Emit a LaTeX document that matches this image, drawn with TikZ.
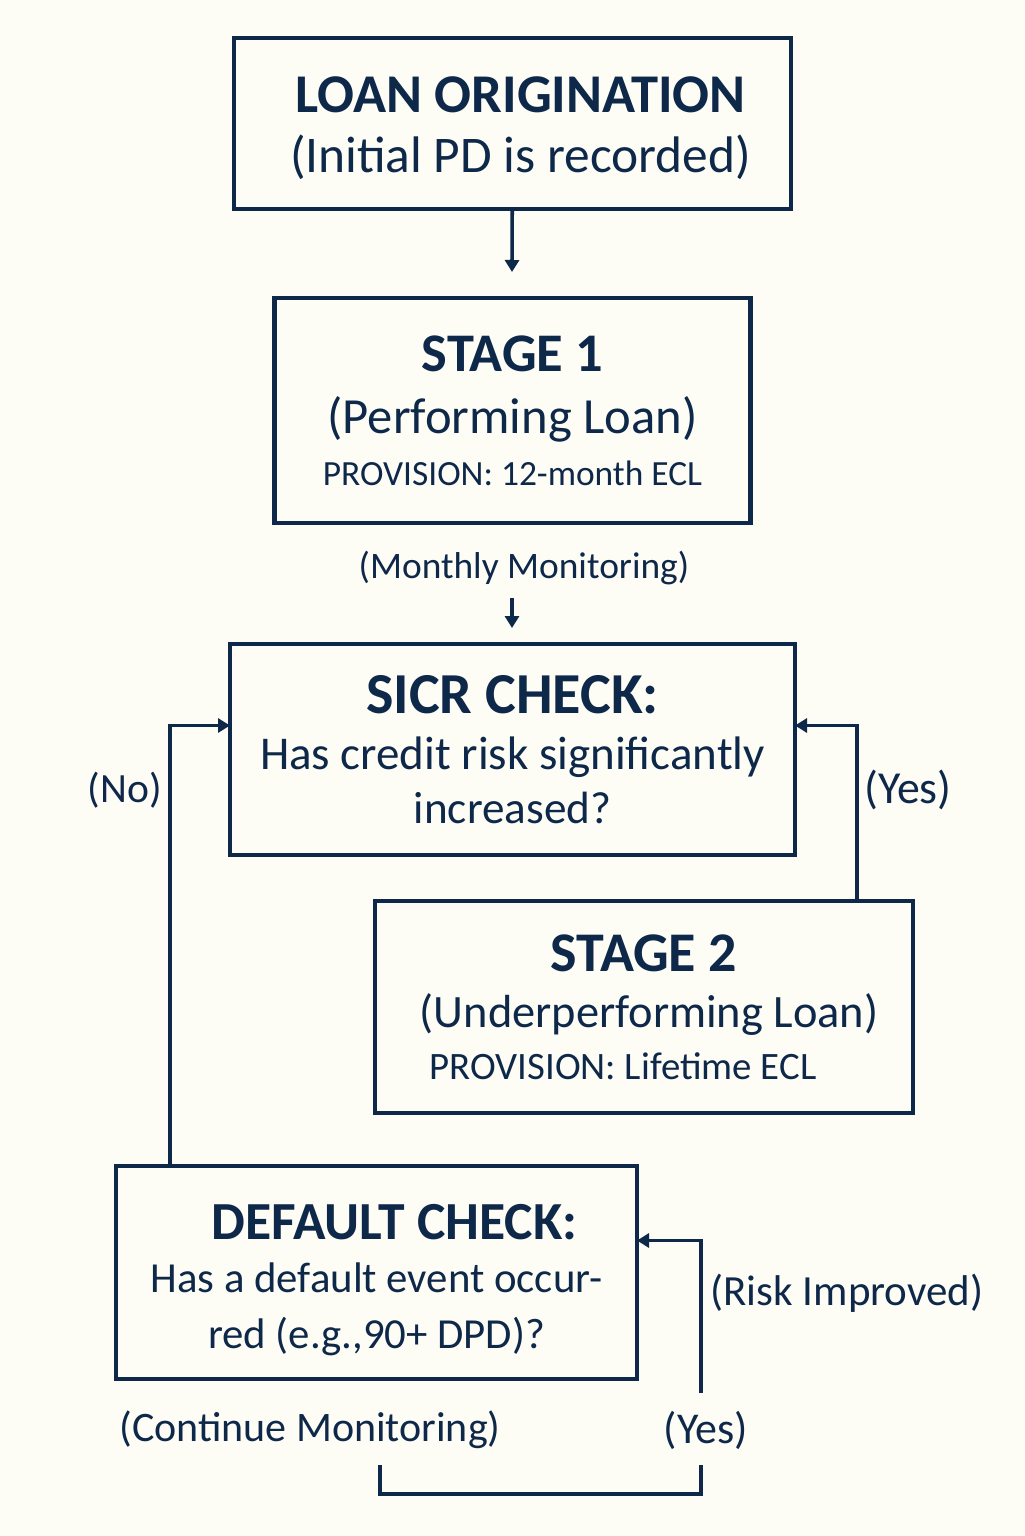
\documentclass[tikz,border=0pt]{standalone}
\usepackage{fontspec}
\setmainfont{Carlito}
\usetikzlibrary{positioning,arrows.meta}
\definecolor{inkblue}{RGB}{14,40,74}
\definecolor{bgcream}{RGB}{253,252,245}
\tikzset{
  box/.style={rectangle,draw=inkblue,line width=2.4pt,outer sep=0pt,align=center,
    inner sep=0pt,text=inkblue,font=\fontsize{25}{28}\selectfont},
  lbl/.style={text=inkblue,inner sep=0pt,font=\fontsize{21.5}{24}\selectfont},
  flow/.style={-{Triangle[length=6pt,width=7pt]},line width=1.8pt,draw=inkblue},
  link/.style={line width=1.8pt,draw=inkblue},
}
% bold heading / plain line at a given size
\newcommand{\hd}[2]{{\fontsize{#1}{#1}\selectfont\bfseries #2}}
\newcommand{\pl}[2]{{\fontsize{#1}{#1}\selectfont #2}}

\begin{document}
\begin{tikzpicture}[x=0.5pt,y=-0.5pt,node distance=8mm]
  \fill[bgcream] (0,0) rectangle (1024,1536);
  % boxes
  \node[box,minimum width=278.5pt,minimum height=85.5pt] (orig) at (512.5,123.5)
    {\rule{0pt}{22.7pt}\hspace*{8pt}\hd{27.3}{LOAN ORIGINATION}\\[2pt]\hspace*{8pt}\pl{25.7}{(Initial PD is recorded)}};
  \node[box,minimum width=238pt,minimum height=112.5pt] (stg1) [below=44.5pt of orig]
    {\hd{27.2}{STAGE 1}\\[3pt]\pl{25.3}{(Performing Loan)}\\[-2pt]\pl{17.7}{PROVISION: 12-month ECL}};
  \node[box,minimum width=282.5pt,minimum height=105.5pt] (sicr) [below=60.5pt of stg1]
    {\hd{29}{SICR CHECK:}\\\pl{23.5}{Has credit risk significantly}\\[-1pt]\pl{22.6}{increased?}};
  \node[box,minimum width=269pt,minimum height=106pt] (stg2) at (644,1007)
    {\hd{28}{STAGE 2}\\\hspace*{5pt}\pl{23.2}{(Underperforming Loan)}\\[-2pt]\hspace*{-21pt}\pl{19.4}{PROVISION: Lifetime ECL}};
  \node[box,minimum width=260.5pt,minimum height=106.5pt] (dflt) at (376.5,1272.5)
    {\rule{0pt}{24.7pt}\hspace*{18pt}\hd{26.8}{DEFAULT CHECK:}\\[-1.5pt]\pl{21.4}{Has a default event occur-}\\\pl{21.4}{red (e.g.,90+ DPD)?}};

  % labels
  \node[lbl,font=\fontsize{18.7}{20}\selectfont] (mon) at (524,568) {(Monthly Monitoring)};
  \node[lbl,font=\fontsize{20.8}{23}\selectfont] (nolbl) at (125,790) {(No)};
  \node[lbl,font=\fontsize{22.9}{25}\selectfont] (yeslbl) at (908,790) {(Yes)};
  \node[lbl] (rilbl) at (847,1293) {(Risk Improved)};
  \node[lbl,font=\fontsize{22}{24}\selectfont] (yeslow) at (706,1430) {(Yes)};
  \node[lbl,font=\fontsize{21}{24}\selectfont] (cont) at (310,1430) {(Continue Monitoring)};

  \coordinate (t1) at (512,272);
  \coordinate (s2) at (512,598);
  \coordinate (t2) at (512,628);
  \coordinate (ri) at (701,1393);
  \coordinate (brL) at (380,1465);
  \coordinate (brR) at (701,1465);

  % connectors
  \draw[flow] (orig) -- (t1);
  \draw[flow] (s2) -- (t2);
  \draw[flow] ([xshift=27pt]dflt.north west) |- ([yshift=12pt]sicr.west);
  \draw[flow] ([xshift=-28pt]stg2.north east) |- ([yshift=12pt]sicr.east);
  \draw[flow] (ri) |- ([yshift=16pt]dflt.east);
  \draw[link] (brL) -- ++(0,29) -| (brR);
\end{tikzpicture}
\end{document}
